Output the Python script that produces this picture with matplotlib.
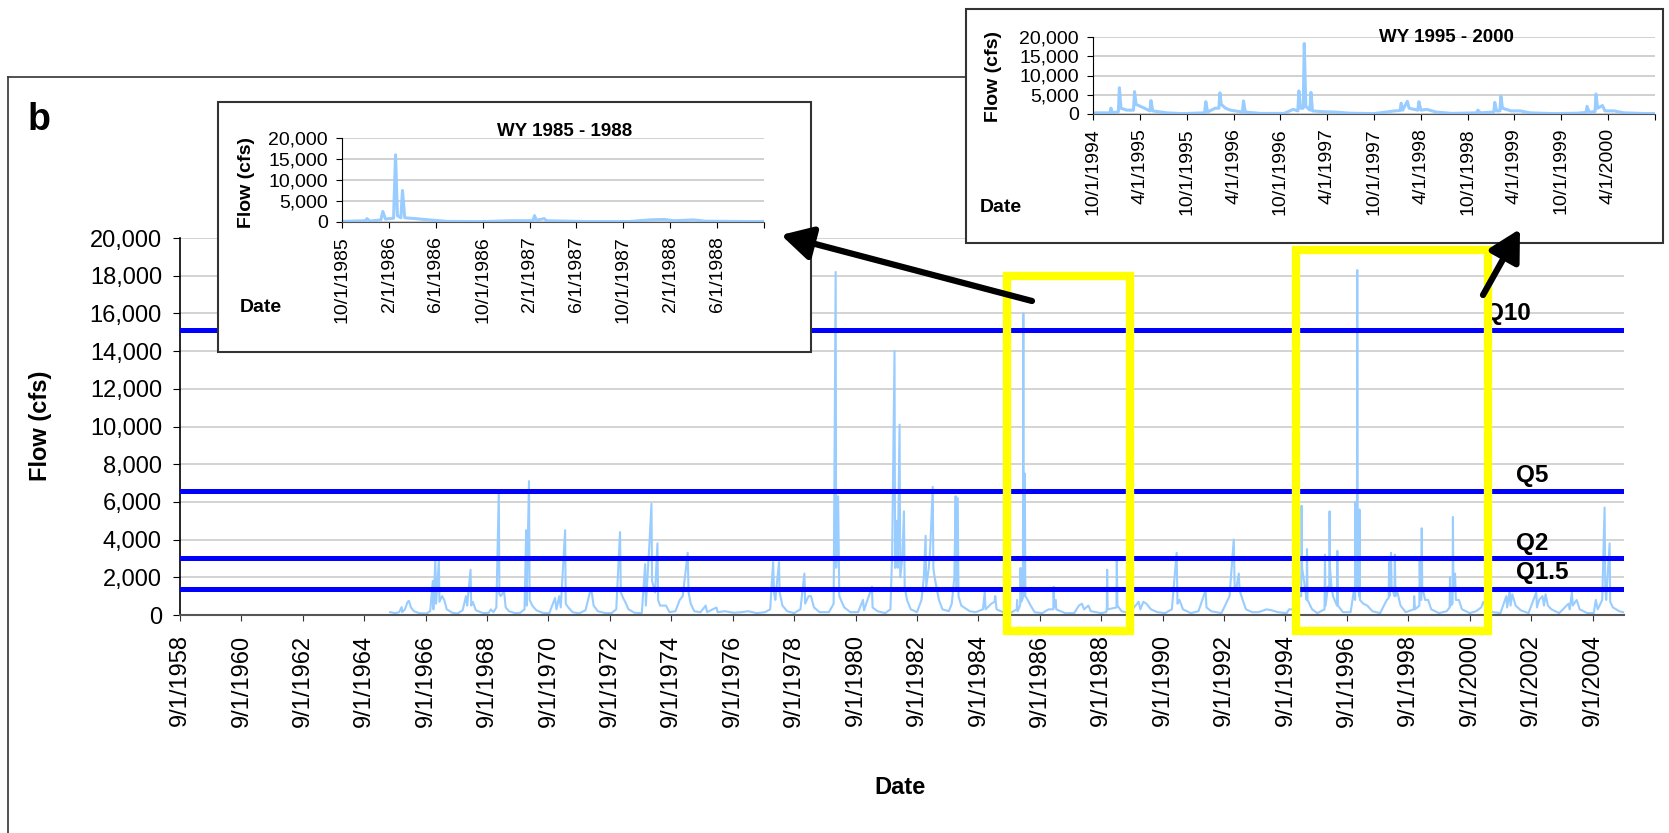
import numpy as np
import pandas as pd
import matplotlib
matplotlib.use("Agg")
import matplotlib.pyplot as plt
from matplotlib.patches import Rectangle, FancyArrowPatch
from matplotlib.lines import Line2D

plt.rcParams['font.family'] = ['Liberation Sans', 'DejaVu Sans']

# daily flow, one line per water year
flow_dates = [
    "1965-07-05", "1965-09-01",
    "1965-10-20", "1965-11-20", "1965-11-25", "1965-12-28", "1966-01-30", "1966-02-15", "1966-03-10", "1966-04-15", "1966-06-15", "1966-09-10",
    "1966-10-25", "1966-11-25", "1966-12-02", "1966-12-25", "1967-01-03", "1967-02-05", "1967-02-12", "1967-03-15", "1967-04-10", "1967-05-10", "1967-07-15", "1967-09-15",
    "1967-11-15", "1967-12-25", "1968-01-08", "1968-02-17", "1968-02-25", "1968-03-15", "1968-04-20", "1968-07-15", "1968-09-20",
    "1968-10-15", "1968-11-15", "1968-12-20", "1969-01-18", "1969-01-25", "1969-02-10", "1969-02-25", "1969-03-20", "1969-04-10", "1969-05-20", "1969-07-30",
    "1969-10-01", "1969-11-20", "1969-12-10", "1969-12-15", "1970-01-12", "1970-01-20", "1970-02-20", "1970-04-10", "1970-06-20", "1970-09-10",
    "1970-11-18", "1970-12-05", "1971-01-07", "1971-01-25", "1971-03-18", "1971-03-25", "1971-04-25", "1971-06-15", "1971-09-01",
    "1971-11-15", "1972-01-18", "1972-02-01", "1972-02-20", "1972-04-10", "1972-07-10", "1972-09-20",
    "1972-11-15", "1972-12-30", "1973-01-08", "1973-02-05", "1973-03-01", "1973-04-10", "1973-06-20", "1973-09-15",
    "1973-10-25", "1973-11-02", "1973-12-15", "1974-01-08", "1974-01-15", "1974-02-20", "1974-03-20", "1974-03-28", "1974-04-20", "1974-06-30", "1974-08-10",
    "1974-10-20", "1974-12-10", "1975-01-15", "1975-03-15", "1975-03-25", "1975-04-20", "1975-06-01", "1975-08-15",
    "1975-10-15", "1975-11-01", "1976-02-20", "1976-03-05", "1976-06-01", "1976-09-10", "1976-12-15", "1977-03-01", "1977-06-15", "1977-09-20",
    "1977-11-20", "1977-12-25", "1978-01-05", "1978-01-20", "1978-03-05", "1978-03-12", "1978-04-15", "1978-06-10", "1978-09-01",
    "1978-11-15", "1979-01-01", "1979-01-10", "1979-02-20", "1979-03-20", "1979-04-25", "1979-07-01",
    "1979-10-20", "1979-12-15", "1980-01-08", "1980-01-14", "1980-02-06", "1980-02-12", "1980-02-20", "1980-03-20", "1980-04-20", "1980-07-01",
    "1980-10-01", "1980-11-28", "1980-12-10", "1981-03-15", "1981-03-22", "1981-05-20", "1981-08-20",
    "1981-10-20", "1981-11-10", "1981-12-08", "1981-12-15", "1982-01-05", "1982-01-15", "1982-02-06", "1982-02-14", "1982-03-10", "1982-03-30", "1982-04-08", "1982-05-05", "1982-06-20", "1982-09-01",
    "1982-10-25", "1982-11-22", "1982-12-13", "1982-12-20", "1983-01-20", "1983-02-05", "1983-03-08", "1983-03-15", "1983-03-30", "1983-04-20", "1983-05-20", "1983-07-01", "1983-09-15",
    "1983-10-20", "1983-11-20", "1983-12-05", "1983-12-12", "1983-12-30", "1984-01-08", "1984-02-10", "1984-03-15", "1984-05-20", "1984-08-01",
    "1984-10-25", "1984-11-15", "1984-11-25", "1985-02-01", "1985-03-12", "1985-03-20", "1985-04-05", "1985-06-20", "1985-09-15",
    "1985-12-01", "1985-12-05", "1985-12-12", "1986-01-10", "1986-01-15", "1986-01-22", "1986-02-12", "1986-02-17", "1986-02-22", "1986-03-03", "1986-03-07", "1986-03-13", "1986-04-10", "1986-05-15", "1986-07-01",
    "1986-10-01", "1986-12-15", "1987-02-09", "1987-02-13", "1987-02-18", "1987-03-10", "1987-03-16", "1987-07-01",
    "1987-10-15", "1987-12-10", "1988-01-15", "1988-02-10", "1988-04-01", "1988-05-01", "1988-09-01", "1988-10-30",
    "1988-11-06", "1988-11-10", "1988-11-16", "1989-03-01", "1989-03-05", "1989-03-12", "1989-05-01", "1989-08-01",
    "1989-11-20", "1989-12-10", "1990-01-15", "1990-02-20", "1990-04-15", "1990-07-01",
    "1990-10-01", "1990-12-20", "1991-02-15", "1991-02-25", "1991-03-20", "1991-05-01", "1991-08-01",
    "1991-11-01", "1992-01-25", "1992-02-05", "1992-04-01", "1992-08-01",
    "1992-11-05", "1992-12-25", "1993-01-05", "1993-01-20", "1993-02-23", "1993-03-05", "1993-04-10", "1993-05-20", "1993-08-01",
    "1993-10-15", "1994-01-20", "1994-03-20", "1994-06-01", "1994-09-15",
    "1994-10-15", "1994-12-06", "1994-12-10", "1994-12-16", "1995-01-08", "1995-01-12", "1995-01-18", "1995-02-10", "1995-03-08", "1995-03-12", "1995-03-18", "1995-04-20", "1995-05-11", "1995-05-15", "1995-05-22", "1995-07-15", "1995-09-15",
    "1995-12-10", "1995-12-15", "1995-12-22", "1996-01-20", "1996-02-04", "1996-02-08", "1996-02-13", "1996-03-01", "1996-03-20", "1996-05-06", "1996-05-10", "1996-05-17", "1996-07-15",
    "1996-10-15", "1996-11-20", "1996-12-08", "1996-12-12", "1996-12-18", "1996-12-29", "1997-01-02", "1997-01-08", "1997-01-24", "1997-01-28", "1997-02-03", "1997-03-15", "1997-05-01", "1997-07-01",
    "1997-10-01", "1997-12-20", "1998-01-11", "1998-01-15", "1998-01-21", "1998-02-08", "1998-02-15", "1998-03-21", "1998-03-25", "1998-04-02", "1998-04-25", "1998-06-01", "1998-08-01",
    "1998-11-06", "1998-11-10", "1998-11-20", "1999-01-11", "1999-01-15", "1999-01-22", "1999-02-04", "1999-02-08", "1999-02-14", "1999-03-20", "1999-04-25", "1999-06-01", "1999-09-01",
    "1999-12-01", "2000-01-06", "2000-01-10", "2000-01-18", "2000-02-10", "2000-02-14", "2000-02-20", "2000-03-10", "2000-03-20", "2000-04-25", "2000-06-01", "2000-09-01",
    "2000-11-15", "2001-01-15", "2001-02-10", "2001-03-15", "2001-06-01", "2001-09-01",
    "2001-11-10", "2001-11-20", "2001-12-20", "2001-12-30", "2002-01-20", "2002-03-01", "2002-05-01", "2002-08-01",
    "2002-11-01", "2002-11-10", "2002-12-05", "2003-01-15", "2003-02-01", "2003-02-20", "2003-03-20", "2003-05-01", "2003-08-01",
    "2003-11-20", "2003-12-05", "2003-12-30", "2004-01-10", "2004-02-25", "2004-04-01", "2004-07-01", "2004-09-15",
    "2004-10-10", "2004-11-01", "2004-12-25", "2005-01-22", "2005-01-30", "2005-02-10", "2005-03-23", "2005-03-30", "2005-05-01", "2005-07-15", "2005-08-31",
]
flow_cfs = [
    150, 100,
    150, 420, 150, 300, 700, 750, 400, 200, 100, 80,
    200, 1800, 300, 2900, 600, 2900, 700, 1000, 800, 300, 120, 80,
    250, 1000, 500, 2400, 500, 700, 250, 100, 120,
    300, 150, 400, 6500, 1100, 1000, 1100, 1300, 400, 200, 100,
    120, 300, 4500, 500, 7100, 800, 500, 250, 120, 90,
    900, 300, 1000, 400, 4500, 600, 400, 150, 90,
    250, 1400, 1100, 500, 200, 100, 100,
    300, 4400, 1200, 900, 700, 300, 120, 100,
    2700, 500, 3800, 5900, 1800, 1200, 3800, 800, 500, 500, 150,
    200, 800, 1000, 3300, 1200, 600, 200, 150,
    500, 150, 400, 150, 200, 120, 150, 200, 100, 150,
    300, 2800, 1200, 800, 2800, 1200, 500, 200, 100,
    300, 2200, 600, 1000, 1000, 400, 150,
    150, 600, 18200, 2500, 6300, 4000, 1000, 700, 400, 150,
    150, 800, 250, 1500, 400, 200, 100,
    300, 3200, 14000, 2500, 5000, 2500, 10100, 2000, 3000, 5500, 1500, 800, 300, 150,
    800, 2000, 4200, 1500, 2500, 3500, 6800, 2500, 2000, 1500, 800, 300, 200,
    600, 2000, 6300, 1500, 6200, 1000, 500, 400, 200, 150,
    300, 1200, 300, 600, 700, 1000, 300, 150, 100,
    300, 800, 200, 500, 2500, 700, 900, 16000, 1500, 1000, 7500, 1000, 800, 500, 150,
    100, 300, 300, 1500, 400, 800, 300, 100,
    100, 500, 600, 300, 500, 200, 100, 150,
    300, 2400, 300, 400, 2900, 500, 200, 100,
    700, 300, 700, 600, 300, 150,
    100, 300, 3300, 600, 800, 300, 100,
    200, 1300, 400, 200, 100,
    1000, 4000, 1500, 1300, 2200, 1300, 800, 300, 150,
    150, 300, 250, 150, 100,
    300, 300, 1500, 300, 600, 6800, 1500, 1000, 1000, 5800, 2500, 1500, 800, 3500, 800, 300, 100,
    300, 3200, 500, 1500, 1500, 5500, 2500, 1500, 1000, 500, 3400, 500, 150,
    150, 1200, 800, 6000, 1500, 1500, 18300, 2000, 1000, 5600, 800, 600, 500, 200,
    100, 800, 900, 2800, 1000, 3300, 1500, 1000, 3200, 1000, 1200, 500, 150,
    300, 1000, 300, 500, 3000, 800, 800, 4600, 1500, 800, 800, 300, 100,
    200, 400, 2000, 500, 600, 5200, 1500, 2200, 800, 800, 300, 100,
    200, 400, 700, 400, 150, 100,
    1000, 400, 1300, 500, 1100, 500, 250, 100,
    1200, 400, 800, 1000, 500, 1100, 500, 300, 100,
    600, 300, 1200, 500, 800, 300, 100, 100,
    800, 300, 800, 5700, 1500, 800, 3800, 700, 400, 200, 150,
]
assert len(flow_dates) == len(flow_cfs)

# flood quantiles
q_names = ["Q10", "Q5", "Q2", "Q1.5"]
q_values = [15100, 6600, 3000, 1400]
q_label_dates = ["2001-03-01", "2002-03-01", "2002-03-01", "2002-03-01"]
q_label_y = [16000, 7400, 3800, 2250]

main_ticks = ["%d-09-01" % y for y in range(1958, 2005, 2)]
inset1_ticks = ["1985-10-01", "1986-02-01", "1986-06-01", "1986-10-01", "1987-02-01",
                "1987-06-01", "1987-10-01", "1988-02-01", "1988-06-01", "1988-10-01"]
inset2_ticks = ["1994-10-01", "1995-04-01", "1995-10-01", "1996-04-01", "1996-10-01", "1997-04-01",
                "1997-10-01", "1998-04-01", "1998-10-01", "1999-04-01", "1999-10-01", "2000-04-01",
                "2000-10-01"]

# highlighted periods (start, end, top)
boxes = [("1985-08-01", "1989-08-10", 18000), ("1995-01-01", "2001-04-10", 19350)]

BLUE_LT = "#99CCFF"
W, H = 1669, 833


def fx(px):
    return px / W


def fy(py):
    return 1 - py / H


def mdy(d):
    return f"{d.month}/{d.day}/{d.year}"


dates = pd.to_datetime(flow_dates)
flows = np.array(flow_cfs)

fig = plt.figure(figsize=(W / 100, H / 100), dpi=100)

# outer frame of panel b
fig.add_artist(Line2D([fx(8), fx(8)], [fy(77), 0], color="#333333", lw=1.2, transform=fig.transFigure))
fig.add_artist(Line2D([fx(8), fx(966)], [fy(77), fy(77)], color="#333333", lw=1.2, transform=fig.transFigure))
fig.text(fx(28), fy(130), "b", fontsize=27, fontweight="bold", ha="left", va="baseline")

# main chart
ax = fig.add_axes([fx(180), fy(615), fx(1624) - fx(180), (615 - 238) / H])
ax.plot(dates, flows, color=BLUE_LT, lw=1.5, zorder=2)
for v in q_values:
    ax.axhline(v, color="#0000FF", lw=3.6, zorder=3)
for name, d, y in zip(q_names, q_label_dates, q_label_y):
    ax.text(pd.Timestamp(d), y, name, fontsize=17.5, fontweight="bold", va="center", ha="left", zorder=4)

for start, end, top in boxes:
    s, e = pd.Timestamp(start), pd.Timestamp(end)
    ax.add_patch(Rectangle((s, -850), e - s, top + 850, fill=False, edgecolor="#FFFF00",
                           lw=6, clip_on=False, zorder=5))

ax.set_xlim(pd.Timestamp("1958-09-01"), pd.Timestamp("2005-09-10"))
ax.set_ylim(0, 20000)
ax.set_yticks(range(0, 20001, 2000))
ax.set_yticklabels([f"{v:,}" for v in range(0, 20001, 2000)])
tick_dates = pd.to_datetime(main_ticks)
ax.set_xticks(tick_dates)
ax.set_xticklabels([mdy(d) for d in tick_dates], rotation=90)
ax.tick_params(axis="x", labelsize=17, length=4, pad=10, color="#333333")
ax.tick_params(axis="y", labelsize=17, length=5, pad=8)
ax.yaxis.grid(True, color="#D0D0D0", lw=1.3)
ax.set_axisbelow(True)
for sp in ["top", "right"]:
    ax.spines[sp].set_visible(False)
ax.spines["left"].set_linewidth(1.2)
ax.spines["bottom"].set_color("#555555")
ax.spines["bottom"].set_linewidth(1.5)
fig.text(fx(40), fy(426), "Flow (cfs)", rotation=90, fontsize=17, fontweight="bold", ha="center", va="center")
fig.text(fx(900), fy(788), "Date", fontsize=17, fontweight="bold", ha="center", va="center")


def inset(box, axpos, ticks, title, title_xy, ylab_xy, date_xy):
    l, t, r, b = box
    fig.add_artist(Rectangle((fx(l), fy(b)), fx(r) - fx(l), (b - t) / H, transform=fig.transFigure,
                             facecolor="white", edgecolor="#333333", lw=1.5, zorder=6))
    al, at, ar, ab = axpos
    ia = fig.add_axes([fx(al), fy(ab), fx(ar) - fx(al), (ab - at) / H])
    ia.set_zorder(7)
    ia.patch.set_alpha(0)
    tks = pd.to_datetime(ticks)
    ia.plot(dates, flows, color=BLUE_LT, lw=2.2)
    ia.set_xlim(tks[0], tks[-1])
    ia.set_ylim(0, 20000)
    ia.set_yticks(range(0, 20001, 5000))
    ia.set_yticklabels([f"{v:,}" for v in range(0, 20001, 5000)])
    ia.set_xticks(tks)
    ia.set_xticklabels([mdy(d) for d in tks[:-1]] + [""], rotation=90)
    ia.tick_params(axis="x", labelsize=14, length=4, pad=6)
    ia.tick_params(axis="y", labelsize=14, length=4, pad=6)
    ia.yaxis.grid(True, color="#C8C8C8", lw=1.2)
    ia.set_axisbelow(True)
    for sp in ["top", "right"]:
        ia.spines[sp].set_visible(False)
    ia.spines["bottom"].set_color("#555555")
    fig.text(fx(title_xy[0]), fy(title_xy[1]), title, fontsize=13.5, fontweight="bold",
             ha="center", va="center", zorder=8)
    fig.text(fx(ylab_xy[0]), fy(ylab_xy[1]), "Flow (cfs)", rotation=90, fontsize=14, fontweight="bold",
             ha="center", va="center", zorder=8)
    fig.text(fx(date_xy[0]), fy(date_xy[1]), "Date", fontsize=14, fontweight="bold",
             ha="left", va="center", zorder=8)


inset((218, 102, 811, 352), (342, 138, 764, 222), inset1_ticks, "WY 1985 - 1988",
      (565, 131), (246, 182), (240, 308))
inset((966, 9, 1663, 243), (1093, 37, 1655, 114), inset2_ticks, "WY 1995 - 2000",
      (1446, 38), (993, 77), (980, 207))

# arrows from the boxes to the insets
arrows = [((1032, 301), (781, 235)), ((1483, 295), (1520, 229))]
for (x0, y0), (x1, y1) in arrows:
    fig.add_artist(FancyArrowPatch((fx(x0), fy(y0)), (fx(x1), fy(y1)), transform=fig.transFigure,
                                   arrowstyle="-|>,head_length=1.1,head_width=0.6", mutation_scale=17,
                                   lw=4.5, color="black", shrinkA=0, shrinkB=0, zorder=9))

fig.savefig("out.png", dpi=100)
